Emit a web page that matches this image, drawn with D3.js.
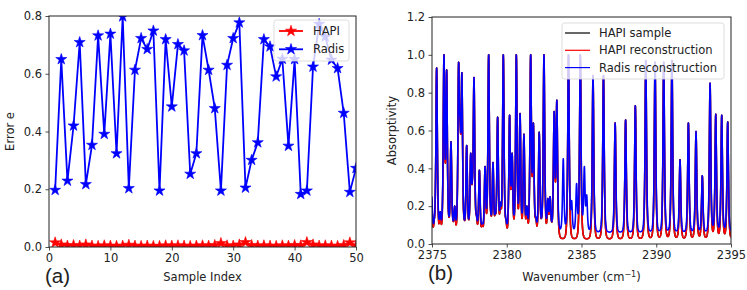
<!DOCTYPE html>
<html>
<head>
<meta charset="utf-8">
<script src="https://cdn.jsdelivr.net/npm/d3@7"></script>
<style>
  body { margin: 0; background: #fff; }
  svg text { font-family: "DejaVu Sans", sans-serif; fill: #222; }
  .tick line { stroke: #222; stroke-width: 0.8; }
  .domain { display: none; }
</style>
</head>
<body>
<div id="chart"></div>
<script>
// ---- panel (a): reconstruction error per sample ----
var sampleIdx = d3.range(1, 51);
var hapiErr = [0.015, 0.008, 0.004, 0.006, 0.004, 0.008, 0.004, 0.003, 0.005, 0.004,
               0.003, 0.004, 0.007, 0.004, 0.003, 0.004, 0.003, 0.003, 0.005, 0.004,
               0.005, 0.004, 0.003, 0.004, 0.005, 0.004, 0.006, 0.013, 0.005, 0.004,
               0.008, 0.016, 0.006, 0.004, 0.005, 0.004, 0.003, 0.005, 0.004, 0.006,
               0.005, 0.016, 0.008, 0.004, 0.005, 0.004, 0.003, 0.006, 0.015, 0.005];
var radisErr = [0.197, 0.65, 0.229, 0.42, 0.709, 0.217, 0.353, 0.732, 0.391, 0.738,
                0.324, 0.798, 0.203, 0.613, 0.723, 0.685, 0.749, 0.195, 0.719, 0.486,
                0.702, 0.68, 0.253, 0.324, 0.733, 0.613, 0.48, 0.195, 0.63, 0.723,
                0.777, 0.205, 0.301, 0.362, 0.719, 0.694, 0.59, 0.651, 0.35, 0.65,
                0.183, 0.195, 0.624, 0.772, 0.728, 0.648, 0.619, 0.464, 0.19, 0.273];
var idxTicks = [0, 10, 20, 30, 40, 50];
var errTicks = [0, 0.2, 0.4, 0.6, 0.8];

// ---- panel (b): line centres / heights ----
var lineWn = [2374.95, 2375.31, 2375.55, 2375.80, 2375.98, 2376.27, 2376.52, 2376.78, 2376.88, 2377.00,
              2377.32, 2377.59, 2377.70, 2377.81, 2378.17, 2378.55, 2378.79, 2379.08, 2379.39, 2379.58,
              2379.77, 2380.19, 2380.36, 2380.64, 2380.89, 2381.15, 2381.35, 2381.60, 2381.78, 2382.17,
              2382.49, 2382.75, 2382.90, 2383.17, 2383.35, 2384.13, 2384.92, 2385.77, 2386.47, 2387.25,
              2387.95, 2388.60, 2389.30, 2389.92, 2390.50, 2391.05, 2391.59, 2392.15, 2392.66, 2393.08,
              2393.60, 2393.98, 2394.38, 2394.78];
var sampleH = [0.40, 0.93, 0.17, 1.00, 0.92, 0.54, 0.20, 0.96, 0.66, 0.905,
               0.52, 0.48, 0.34, 0.88, 0.39, 0.41, 1.00, 0.43, 0.67, 0.22,
               1.00, 0.68, 0.48, 1.00, 0.69, 0.58, 0.20, 1.00, 0.64, 0.59,
               1.00, 0.24, 0.25, 0.70, 0.76, 1.00, 1.00, 0.89, 0.89, 0.64,
               0.655, 0.73, 0.97, 0.96, 0.96, 0.97, 0.445, 0.64, 0.595, 0.36,
               0.85, 0.685, 0.68, 0.645];
// weak lines that fill the floor of the dense part of the band
var weakWn = [2375.15, 2376.12, 2376.40, 2377.16, 2377.45, 2377.98, 2378.36, 2378.93,
              2379.23, 2379.95, 2380.50, 2381.02, 2381.95, 2382.33, 2383.00];
var weakH = [0.13, 0.15, 0.13, 0.13, 0.13, 0.15, 0.11, 0.17,
             0.16, 0.13, 0.14, 0.13, 0.14, 0.14, 0.12];
// extra lines that only the Radis reconstruction shows
var radisExtraWn = [2383.78, 2384.34, 2384.67, 2385.19, 2385.35];
var radisExtraH = [0.45, 0.23, 0.32, 0.41, 0.26];
var wnTicks = [2375, 2380, 2385, 2390, 2395];
var absTicks = [0, 0.2, 0.4, 0.6, 0.8, 1.0, 1.2];

var W = 747, H = 290;
var svg = d3.select("#chart").append("svg")
    .attr("width", W)
    .attr("height", H);

var pa = {left: 49, right: 356, top: 16, bottom: 247};
var pb = {left: 432, right: 731, top: 17, bottom: 244};

var defs = svg.append("defs");
defs.append("clipPath").attr("id", "clipA").append("rect")
    .attr("x", pa.left).attr("y", pa.top)
    .attr("width", pa.right - pa.left).attr("height", pa.bottom - pa.top);
defs.append("clipPath").attr("id", "clipB").append("rect")
    .attr("x", pb.left).attr("y", pb.top)
    .attr("width", pb.right - pb.left).attr("height", pb.bottom - pb.top);

function frame(p) {
    svg.append("rect")
        .attr("x", p.left).attr("y", p.top)
        .attr("width", p.right - p.left).attr("height", p.bottom - p.top)
        .attr("fill", "none").attr("stroke", "#222").attr("stroke-width", 1);
}

function axes(p, x, y, xt, yt, xfmt, yfmt) {
    svg.append("g")
        .attr("transform", "translate(0," + p.bottom + ")")
        .call(d3.axisBottom(x).tickValues(xt).tickFormat(xfmt).tickSize(3.5).tickPadding(3.5))
        .call(function (g) { g.selectAll("text").style("font-size", "11.5px").attr("fill", "#222"); });
    svg.append("g")
        .attr("transform", "translate(" + p.left + ",0)")
        .call(d3.axisLeft(y).tickValues(yt).tickFormat(yfmt).tickSize(3.5).tickPadding(3.5))
        .call(function (g) { g.selectAll("text").style("font-size", "11.5px").attr("fill", "#222"); });
}

// ================= panel (a) =================
var xA = d3.scaleLinear().domain([0, 50]).range([pa.left, pa.right]);
var yA = d3.scaleLinear().domain([0, 0.8]).range([pa.bottom, pa.top]);
var star = d3.symbol().type(d3.symbolStar).size(38);

var seriesA = [
    {name: "HAPI", color: "#ff0000", values: hapiErr},
    {name: "Radis", color: "#0000ff", values: radisErr}
];

var gA = svg.append("g").attr("clip-path", "url(#clipA)");
var lineA = d3.line()
    .x(function (d, i) { return xA(sampleIdx[i]); })
    .y(function (d) { return yA(d); });

seriesA.forEach(function (s) {
    gA.append("path")
        .attr("d", lineA(s.values))
        .attr("fill", "none")
        .attr("stroke", s.color)
        .attr("stroke-width", 1.8);
    gA.selectAll(null)
        .data(s.values)
        .enter().append("path")
        .attr("d", star)
        .attr("transform", function (d, i) { return "translate(" + xA(sampleIdx[i]) + "," + yA(d) + ")"; })
        .attr("fill", s.color)
        .attr("stroke", s.color)
        .attr("stroke-width", 0.6);
});

frame(pa);
axes(pa, xA, yA, idxTicks, errTicks, d3.format("d"), d3.format(".1f"));

svg.append("text")
    .attr("x", (pa.left + pa.right) / 2).attr("y", 281)
    .attr("text-anchor", "middle").style("font-size", "11.5px")
    .text("Sample Index");
svg.append("text")
    .attr("transform", "translate(14," + ((pa.top + pa.bottom) / 2) + ") rotate(-90)")
    .attr("text-anchor", "middle").style("font-size", "11.5px")
    .text("Error e");

// legend (a)
var legA = svg.append("g");
legA.append("rect")
    .attr("x", 274).attr("y", 20).attr("width", 75).attr("height", 41).attr("rx", 2.5)
    .attr("fill", "#fff").attr("fill-opacity", 0.8)
    .attr("stroke", "#d4d4d4").attr("stroke-width", 0.8);
seriesA.forEach(function (s, i) {
    var y = 31 + i * 18.3;
    legA.append("line")
        .attr("x1", 279).attr("x2", 303).attr("y1", y).attr("y2", y)
        .attr("stroke", s.color).attr("stroke-width", 1.8);
    legA.append("path")
        .attr("d", star)
        .attr("transform", "translate(291," + y + ")")
        .attr("fill", s.color).attr("stroke", s.color).attr("stroke-width", 0.6);
    legA.append("text")
        .attr("x", 313).attr("y", y).attr("dy", "0.35em")
        .style("font-size", "11.5px")
        .text(s.name);
});

// ================= panel (b) =================
var xB = d3.scaleLinear().domain([2375, 2395]).range([pb.left, pb.right]);
var yB = d3.scaleLinear().domain([0, 1.2]).range([pb.bottom, pb.top]);

var gamma = 0.085;
// squared Lorentzian: sharp tip, short tails
function prof(d) { var l = gamma * gamma / (d * d + gamma * gamma); return l * l; }

// line amplitudes are tuned so the curve passes through the heights
function spectrum(wn, h, base) {
    var amp = h.map(function (v) { return Math.max(0, v - base); });
    for (var it = 0; it < 80; it++) {
        var next = amp.slice();
        wn.forEach(function (c, i) {
            var y = base;
            wn.forEach(function (c2, j) { y += amp[j] * prof(c - c2); });
            next[i] = Math.max(0, amp[i] + 0.7 * (h[i] - y));
        });
        amp = next;
    }
    return d3.range(2375, 2395.0001, 0.01).map(function (w) {
        var y = base;
        wn.forEach(function (c, j) { y += amp[j] * prof(w - c); });
        return [w, y];
    });
}

var hapiWn = lineWn.concat(weakWn), hapiH = sampleH.concat(weakH);
var seriesB = [
    {name: "HAPI sample", color: "#000000", pts: spectrum(hapiWn, hapiH, 0.025)},
    {name: "HAPI reconstruction", color: "#ff0000", pts: spectrum(hapiWn, hapiH, 0.025)},
    {name: "Radis reconstruction", color: "#0000ff",
     pts: spectrum(hapiWn.concat(radisExtraWn), hapiH.concat(radisExtraH), 0.06)}
];

var lineB = d3.line()
    .x(function (d) { return xB(d[0]); })
    .y(function (d) { return yB(d[1]); });

var gB = svg.append("g").attr("clip-path", "url(#clipB)");
seriesB.forEach(function (s) {
    gB.append("path")
        .attr("d", lineB(s.pts))
        .attr("fill", "none")
        .attr("stroke", s.color)
        .attr("stroke-width", 1.6)
        .attr("stroke-linejoin", "round");
});

frame(pb);
axes(pb, xB, yB, wnTicks, absTicks, d3.format("d"), d3.format(".1f"));

var wl = svg.append("text")
    .attr("x", (pb.left + pb.right) / 2).attr("y", 281)
    .attr("text-anchor", "middle").style("font-size", "11.5px");
wl.append("tspan").text("Wavenumber (cm");
wl.append("tspan").attr("baseline-shift", "super").style("font-size", "8px").text("\u22121");
wl.append("tspan").text(")");

svg.append("text")
    .attr("transform", "translate(396," + ((pb.top + pb.bottom) / 2) + ") rotate(-90)")
    .attr("text-anchor", "middle").style("font-size", "11.5px")
    .text("Absorptivity");

// legend (b)
var legB = svg.append("g");
legB.append("rect")
    .attr("x", 562).attr("y", 23).attr("width", 162).attr("height", 56).attr("rx", 2.5)
    .attr("fill", "#fff").attr("fill-opacity", 0.8)
    .attr("stroke", "#d4d4d4").attr("stroke-width", 0.8);
seriesB.forEach(function (s, i) {
    var y = 33 + i * 17.3;
    legB.append("line")
        .attr("x1", 565).attr("x2", 590).attr("y1", y).attr("y2", y)
        .attr("stroke", s.color).attr("stroke-width", 1.2);
    legB.append("text")
        .attr("x", 599).attr("y", y).attr("dy", "0.35em")
        .style("font-size", "11.5px")
        .text(s.name);
});

// panel tags
svg.append("text")
    .attr("x", 45).attr("y", 283)
    .style("font-family", "'Liberation Sans', Arial, sans-serif").style("font-size", "20.5px")
    .attr("fill", "#111")
    .text("(a)");
svg.append("text")
    .attr("x", 428).attr("y", 280)
    .style("font-family", "'Liberation Sans', Arial, sans-serif").style("font-size", "20.5px")
    .attr("fill", "#111")
    .text("(b)");
</script>
</body>
</html>
